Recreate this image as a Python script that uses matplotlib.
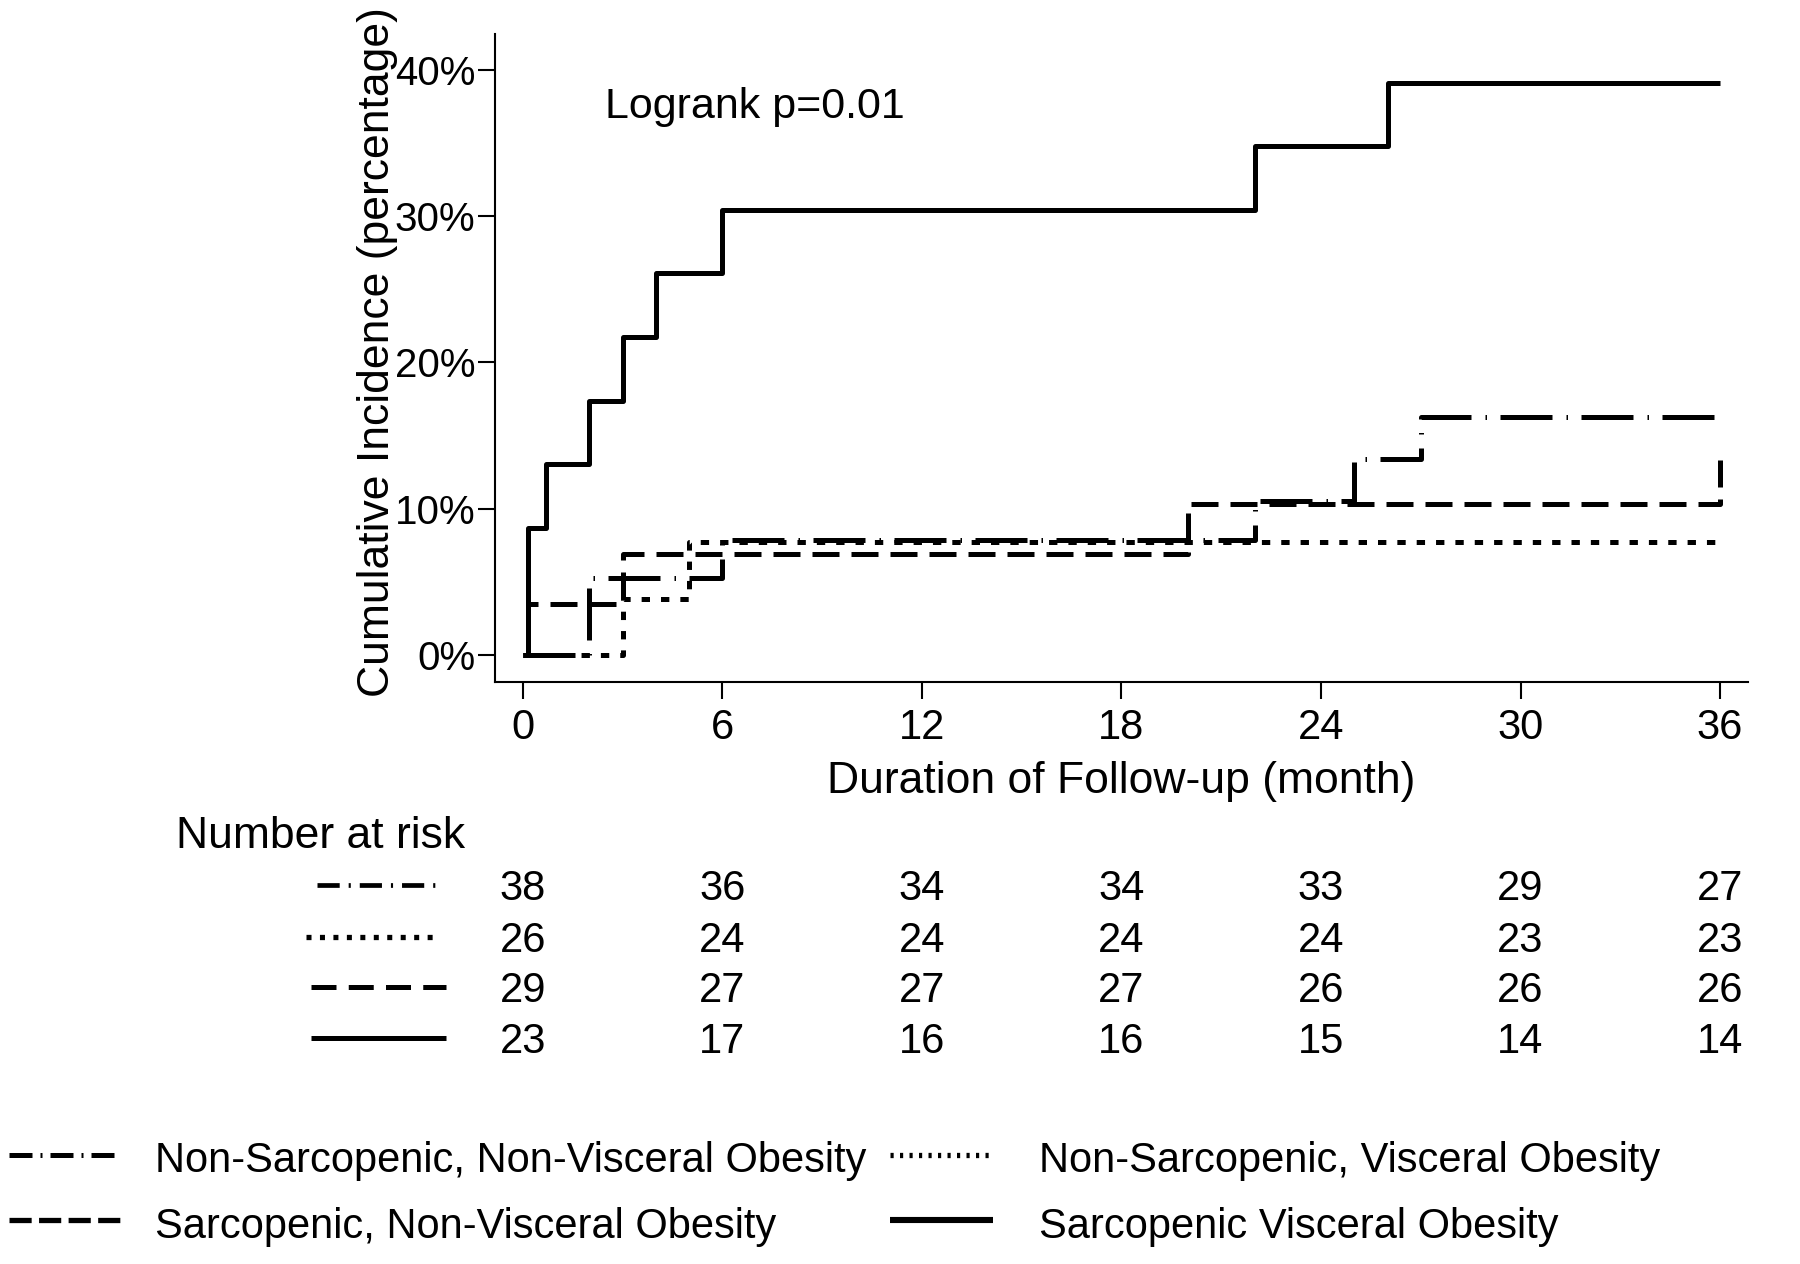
import matplotlib
matplotlib.use("Agg")
import matplotlib.pyplot as plt
from matplotlib.lines import Line2D
from matplotlib.transforms import blended_transform_factory

plt.rcParams['font.family'] = ['Liberation Sans', 'DejaVu Sans']

# cumulative incidence steps (month, percent)
nsnvo_t = [0, 2, 6, 22, 25, 27, 36]
nsnvo_y = [0, 5.26, 7.89, 10.53, 13.4, 16.3, 16.3]
nsvo_t = [0, 3, 5, 36]
nsvo_y = [0, 3.85, 7.69, 7.69]
snvo_t = [0, 0.15, 3, 20, 36]
snvo_y = [0, 3.45, 6.90, 10.34, 13.8]
svo_t = [0, 0.15, 0.7, 2, 3, 4, 6, 22, 26, 36]
svo_y = [0, 8.70, 13.04, 17.39, 21.74, 26.09, 30.43, 34.78, 39.13, 39.13]

# number at risk
risk_times = [0, 6, 12, 18, 24, 30, 36]
risk_nsnvo = [38, 36, 34, 34, 33, 29, 27]
risk_nsvo = [26, 24, 24, 24, 24, 23, 23]
risk_snvo = [29, 27, 27, 27, 26, 26, 26]
risk_svo = [23, 17, 16, 16, 15, 14, 14]

group_names = ["Non-Sarcopenic, Non-Visceral Obesity",
               "Non-Sarcopenic, Visceral Obesity",
               "Sarcopenic, Non-Visceral Obesity",
               "Sarcopenic Visceral Obesity"]
x_ticks = [0, 6, 12, 18, 24, 30, 36]
y_ticks = [0, 10, 20, 30, 40]
y_ticklabels = ["0%", "10%", "20%", "30%", "40%"]

W, H = 1800, 1264
fig = plt.figure(figsize=(W / 100, H / 100), dpi=100)
ax = fig.add_axes([495 / W, 1 - 682 / H, (1748 - 495) / W, (682 - 34) / H])

lw = 3.6
ax.step(nsnvo_t, nsnvo_y, where='post', color='k', lw=lw, ls=(0, (10.4, 2.8, 0.3, 2.7)))
ax.step(nsvo_t, nsvo_y, where='post', color='k', lw=lw, ls=(0, (1.67, 2.2)))
ax.step(snvo_t, snvo_y, where='post', color='k', lw=lw, ls=(0, (5.4, 2.4)))
ax.step(svo_t, svo_y, where='post', color='k', lw=lw, ls='-', solid_capstyle='butt')

ax.set_xlim(-0.84, 36.84)
ax.set_ylim(-1.85, 42.46)
ax.spines['top'].set_visible(False)
ax.spines['right'].set_visible(False)
ax.spines['left'].set_linewidth(1.5)
ax.spines['bottom'].set_linewidth(1.5)
ax.set_xticks(x_ticks)
ax.set_yticks(y_ticks)
ax.set_yticklabels(y_ticklabels)
ax.tick_params(axis='both', direction='out', length=12, width=1.5, colors='k')
ax.tick_params(axis='y', labelsize=29, pad=2)
ax.tick_params(axis='x', labelsize=30, pad=7)

ax.text(2.47, 37.5, "Logrank p=0.01", fontsize=31, va='center', ha='left')

fig.text(0.21, 0.7215, "Cumulative Incidence (percentage)", rotation=90,
         ha='center', va='center', fontsize=32)
fig.text(1121.5 / W, 1 - 781 / H, "Duration of Follow-up (month)",
         ha='center', va='center', fontsize=32)

# number at risk table
fig.text(176 / W, 1 - 836 / H, "Number at risk", ha='left', va='center', fontsize=32)
trans = blended_transform_factory(ax.transData, fig.transFigure)
rows = [risk_nsnvo, risk_nsvo, risk_snvo, risk_svo]
base_y = [900, 952, 1002, 1053]
for row, yb in zip(rows, base_y):
    for t, n in zip(risk_times, row):
        ax.text(t, 1 - yb / H, str(n), transform=trans, ha='center', va='baseline',
                fontsize=30, clip_on=False)


def sample(x0, x1, y, lw, ls):
    fig.add_artist(Line2D([x0 / W, x1 / W], [1 - y / H, 1 - y / H], transform=fig.transFigure,
                          color='k', lw=lw, ls=ls, solid_capstyle='butt', dash_capstyle='butt'))


sample(317, 435, 885, 3.4, (0, (4.7, 1.9, 0.45, 1.9)))
sample(306, 440, 937, 3.8, (0, (0.95, 1.6)))
sample(311, 446, 987, 3.6, (0, (5.0, 2.45)))
sample(311, 446, 1038, 3.6, '-')

# legend
sample(9, 121, 1155, 3.6, (0, (4.6, 1.6, 0.4, 1.6)))
sample(890, 993, 1155, 3.8, (0, (0.6, 1.2)))
sample(9, 121, 1220, 3.8, (0, (4.2, 1.4)))
sample(890, 993, 1220, 4.4, '-')
fig.text(155 / W, 1 - 1172 / H, group_names[0], ha='left', va='baseline', fontsize=30)
fig.text(1039 / W, 1 - 1172 / H, group_names[1], ha='left', va='baseline', fontsize=30)
fig.text(155 / W, 1 - 1238 / H, group_names[2], ha='left', va='baseline', fontsize=30)
fig.text(1039 / W, 1 - 1238 / H, group_names[3], ha='left', va='baseline', fontsize=30)

fig.savefig("out.png", dpi=100, facecolor='white')
